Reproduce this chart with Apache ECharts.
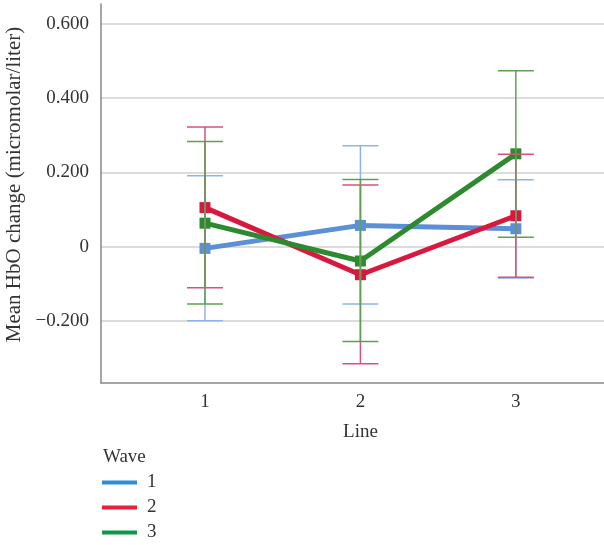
<!DOCTYPE html>
<html>
<head>
<meta charset="utf-8">
<script src="https://cdn.jsdelivr.net/npm/echarts@6/dist/echarts.min.js"></script>
<style>
  html, body { margin: 0; padding: 0; background: #fff; }
  #chart { width: 604px; height: 545px; }
</style>
</head>
<body>
<div id="chart"></div>
<script>
// Mean HbO change by line position, one series per wave, with 95% CI bars
const lines = [1, 2, 3];
const waves = ['1', '2', '3'];

const wave1Mean = [-0.005, 0.057, 0.048];
const wave1Low  = [-0.200, -0.155, -0.085];
const wave1High = [0.191, 0.272, 0.180];

const wave2Mean = [0.105, -0.076, 0.083];
const wave2Low  = [-0.111, -0.316, -0.083];
const wave2High = [0.322, 0.166, 0.249];

const wave3Mean = [0.063, -0.039, 0.250];
const wave3Low  = [-0.155, -0.256, 0.025];
const wave3High = [0.283, 0.181, 0.474];

const yTicks = [-0.2, 0, 0.2, 0.4, 0.6];

const lineColors = ['#5b8fd6', '#d9183e', '#2e8a2e'];
const barColors = ['#8fb3e8', '#d9507a', '#5e9f52'];
const legendColors = ['#2f8ed8', '#e8203c', '#0a9a4a'];

const means = [wave1Mean, wave2Mean, wave3Mean];
const lows = [wave1Low, wave2Low, wave3Low];
const highs = [wave1High, wave2High, wave3High];

const fontFamily = 'Liberation Serif, DejaVu Serif, serif';

function fmtY(v) {
  if (Math.abs(v) < 1e-9) return '0';
  const s = Math.abs(v).toFixed(3);
  return v < 0 ? '\u2212' + s : s;
}

const series = [];
waves.forEach((w, i) => {
  series.push({
    name: w,
    type: 'line',
    data: lines.map((x, j) => [x, means[i][j]]),
    symbol: 'rect',
    symbolSize: 11,
    z: 3,
    lineStyle: { color: lineColors[i], width: 5 },
    itemStyle: { color: lineColors[i] },
    emphasis: { disabled: true }
  });
});
waves.forEach((w, i) => {
  series.push({
    name: w + ' CI',
    type: 'custom',
    z: 4,
    silent: true,
    data: lines.map((x, j) => [x, lows[i][j], highs[i][j]]),
    renderItem: function (params, api) {
      const x = api.value(0);
      const lo = api.coord([x, api.value(1)]);
      const hi = api.coord([x, api.value(2)]);
      const half = 18;
      const style = { stroke: barColors[i], lineWidth: 1.5, fill: null };
      return {
        type: 'group',
        children: [
          { type: 'line', shape: { x1: lo[0], y1: lo[1], x2: hi[0], y2: hi[1] }, style: style },
          { type: 'line', shape: { x1: lo[0] - half, y1: lo[1], x2: lo[0] + half, y2: lo[1] }, style: style },
          { type: 'line', shape: { x1: hi[0] - half, y1: hi[1], x2: hi[0] + half, y2: hi[1] }, style: style }
        ]
      };
    }
  });
});

const chart = echarts.init(document.getElementById('chart'), null, { renderer: 'canvas' });
chart.setOption({
  animation: false,
  backgroundColor: '#fff',
  textStyle: { fontFamily: fontFamily },
  title: {
    text: 'Wave',
    left: 98,
    top: 443,
    textStyle: { fontFamily: fontFamily, fontSize: 19, fontWeight: 'normal', color: '#333' }
  },
  legend: {
    orient: 'vertical',
    left: 102,
    top: 473,
    padding: 0,
    itemGap: 6,
    itemWidth: 35,
    itemHeight: 4,
    icon: 'rect',
    textStyle: { fontFamily: fontFamily, fontSize: 19, color: '#333', padding: [0, 0, 0, 5] },
    data: waves.map((w, i) => ({ name: w, itemStyle: { color: legendColors[i] } }))
  },
  grid: { left: 101, top: 4, right: -16, bottom: 162, outerBoundsMode: 'none', containLabel: false },
  xAxis: {
    type: 'value',
    min: 0.331,
    max: 3.67,
    name: 'Line',
    nameLocation: 'middle',
    nameGap: 40,
    nameTextStyle: { fontFamily: fontFamily, fontSize: 19, color: '#333' },
    axisLine: { show: true, onZero: false, lineStyle: { color: '#888', width: 1.5 } },
    axisTick: { show: false, customValues: lines },
    axisLabel: { customValues: lines, fontFamily: fontFamily, fontSize: 19, color: '#333', margin: 10 },
    splitLine: { show: false }
  },
  yAxis: {
    type: 'value',
    min: -0.368,
    max: 0.654,
    name: 'Mean HbO change (micromolar/liter)',
    nameLocation: 'middle',
    nameGap: 71,
    nameRotate: 90,
    nameTextStyle: { fontFamily: fontFamily, fontSize: 21, color: '#333', padding: [0, 0, 0, 18] },
    axisLine: { show: true, onZero: false, lineStyle: { color: '#888', width: 1.5 } },
    axisTick: { show: false, customValues: yTicks },
    axisLabel: { customValues: yTicks, formatter: fmtY, fontFamily: fontFamily, fontSize: 19, color: '#333', margin: 12 },
    splitLine: { show: true, lineStyle: { color: '#d0d0d0', width: 1.5 } }
  },
  series: series
});
</script>
</body>
</html>
